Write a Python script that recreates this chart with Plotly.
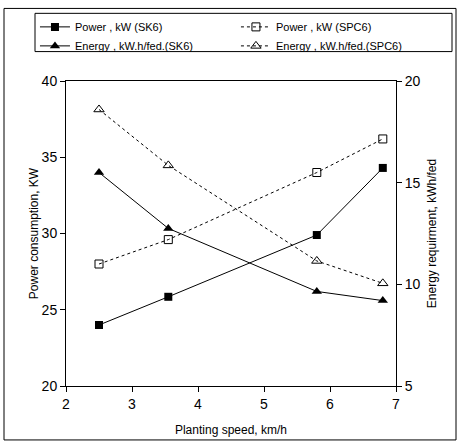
import plotly.graph_objects as go

speed = [2.5, 3.55, 5.8, 6.8]
power_sk6 = [24.0, 25.85, 29.9, 34.3]
power_spc6 = [28.0, 29.6, 34.0, 36.2]
energy_sk6 = [15.5, 12.75, 9.65, 9.2]
energy_spc6 = [18.6, 15.85, 11.15, 10.05]

names = ["Power , kW (SK6)", "Power , kW (SPC6)",
         "Energy , kW.h/fed.(SK6)", "Energy , kW.h/fed.(SPC6)"]

FONT = "Liberation Sans, Arial, sans-serif"

fig = go.Figure()
fig.add_trace(go.Scatter(x=speed, y=power_sk6, name=names[0], mode="lines+markers",
                         legend="legend",
                         line=dict(color="black", width=1),
                         marker=dict(symbol="square", size=8, color="black")))
fig.add_trace(go.Scatter(x=speed, y=energy_sk6, name=names[2], mode="lines+markers",
                         yaxis="y2", legend="legend",
                         line=dict(color="black", width=1),
                         marker=dict(symbol="triangle-up", size=9, color="black")))
fig.add_trace(go.Scatter(x=speed, y=power_spc6, name=names[1], mode="lines+markers",
                         legend="legend2",
                         line=dict(color="black", width=1, dash="dot"),
                         marker=dict(symbol="square-open", size=8, color="black")))
fig.add_trace(go.Scatter(x=speed, y=energy_spc6, name=names[3], mode="lines+markers",
                         yaxis="y2", legend="legend2",
                         line=dict(color="black", width=1, dash="dot"),
                         marker=dict(symbol="triangle-up-open", size=9, color="black")))

axis_common = dict(showgrid=False, zeroline=False, showline=True, linecolor="black",
                   linewidth=1, ticks="outside", ticklen=5, tickcolor="black",
                   tickfont=dict(family=FONT, size=14, color="black"))

legend_common = dict(orientation="v", yanchor="top", xanchor="left",
                     borderwidth=0, bgcolor="rgba(0,0,0,0)",
                     font=dict(family=FONT, size=11, color="black"),
                     tracegroupgap=0, itemwidth=30)

fig.update_layout(
    width=459, height=446,
    margin=dict(l=66, r=63, t=77, b=58),
    paper_bgcolor="white", plot_bgcolor="white",
    font=dict(family=FONT, size=12, color="black"),
    showlegend=True,
    legend=dict(x=-0.094, y=1.225, **legend_common),
    legend2=dict(x=0.515, y=1.225, **legend_common),
    xaxis=dict(range=[2, 7], dtick=1, mirror=True,
               title=dict(text="Planting speed, km/h", standoff=14,
                          font=dict(family=FONT, size=12, color="black")),
               **axis_common),
    yaxis=dict(range=[20, 40], dtick=5,
               title=dict(text="Power consumption, KW", standoff=0,
                          font=dict(family=FONT, size=12, color="black")),
               **axis_common),
    yaxis2=dict(range=[5, 20], dtick=5, overlaying="y", side="right",
                title=dict(text="Energy requirment, kWh/fed", standoff=8,
                           font=dict(family=FONT, size=12, color="black")),
                **axis_common),
)

# legend box
fig.add_shape(type="rect", xref="paper", yref="paper",
              x0=(35 - 66) / 330, x1=(452 - 66) / 330,
              y0=(388 - 47) / 311, y1=(388 - 8) / 311,
              line=dict(color="black", width=1), layer="below")
# outer frame
fig.add_shape(type="rect", xref="paper", yref="paper",
              x0=(4 - 66) / 330, x1=(456 - 66) / 330,
              y0=(388 - 443) / 311, y1=(388 - 3) / 311,
              line=dict(color="black", width=1), layer="below")

fig.write_html("out.html")
